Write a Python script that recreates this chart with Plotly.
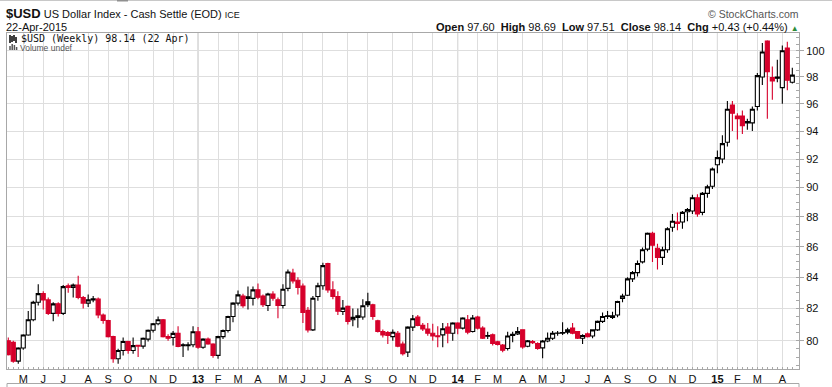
import math
import pandas as pd
import plotly.graph_objects as go

# ---------------- data (weekly bars, dated by Monday of the week) ----------------
week_start = "2012-04-16"
n_weeks = 158

opens = [80.00, 79.90, 78.75, 79.55, 80.35, 81.30, 82.40, 82.95, 82.55, 81.70,
         82.30, 81.70, 83.45, 83.35, 83.50, 82.70, 82.35, 82.55, 82.60, 81.60,
         81.25, 80.25, 78.90, 79.40, 79.95, 79.40, 79.72, 79.67, 80.10, 80.65,
         81.05, 81.30, 80.25, 80.20, 80.45, 79.75, 79.70, 79.75, 80.55, 79.60,
         80.10, 79.80, 79.10, 80.25, 80.63, 81.50, 82.35, 82.80, 82.75, 82.65,
         83.20, 82.80, 82.20, 82.93, 82.56, 82.20, 83.29, 84.28, 83.81, 83.44,
         81.89, 80.67, 82.77, 83.46, 84.90, 83.19, 82.77, 81.82, 82.14, 81.30,
         81.45, 81.47, 82.43, 82.24, 81.24, 80.57, 80.50, 80.25, 80.46, 79.79,
         79.30, 80.84, 81.47, 80.95, 80.72, 80.46, 80.30, 80.36, 80.85, 80.46,
         81.10, 80.78, 81.30, 80.57, 81.47, 80.78, 80.32, 80.36, 79.94, 79.73,
         79.52, 80.40, 80.42, 80.67, 79.66, 79.95, 79.83, 79.56, 79.98, 80.15,
         80.48, 80.50, 80.53, 80.78, 80.57, 80.15, 80.42, 80.29, 80.67, 81.20,
         81.55, 81.45, 81.60, 82.65, 82.85, 83.90, 84.30, 85.00, 85.84, 86.90,
         85.90, 85.30, 85.80, 87.30, 87.65, 87.65, 88.35, 88.40, 89.30, 88.30,
         89.60, 90.10, 91.60, 92.00, 93.20, 95.90, 95.10, 95.10, 94.70, 94.60,
         95.80, 98.00, 100.75, 97.96, 98.00, 97.20, 100.20, 97.60]

highs = [80.20, 80.00, 79.60, 80.40, 81.85, 82.50, 83.55, 83.10, 82.70, 82.40,
         82.40, 83.50, 83.60, 83.60, 84.10, 82.80, 82.90, 82.80, 82.70, 81.70,
         81.30, 80.30, 79.50, 80.20, 80.00, 80.20, 79.75, 80.20, 80.70, 81.10,
         81.50, 81.35, 80.40, 80.60, 80.90, 79.85, 79.90, 80.90, 80.85, 80.15,
         80.20, 79.85, 80.30, 80.70, 81.55, 82.40, 83.15, 82.95, 83.40, 83.40,
         83.60, 82.90, 83.00, 83.10, 82.70, 83.55, 84.50, 84.55, 84.00, 83.60,
         82.10, 82.80, 83.65, 84.95, 84.95, 83.75, 83.10, 82.55, 82.20, 82.00,
         82.00, 82.60, 83.00, 82.30, 81.30, 80.70, 80.60, 80.70, 80.60, 79.95,
         80.90, 81.60, 81.60, 81.10, 81.10, 81.05, 80.90, 81.10, 81.10, 81.15,
         81.15, 81.45, 81.60, 81.60, 81.55, 80.90, 80.55, 80.45, 80.00, 79.80,
         80.55, 80.55, 80.85, 80.70, 80.05, 80.05, 79.90, 80.05, 80.50, 80.60,
         80.60, 81.15, 80.80, 81.10, 80.60, 80.40, 80.50, 80.70, 81.25, 81.75,
         81.85, 81.80, 82.50, 82.95, 84.00, 84.40, 85.10, 85.95, 86.95, 87.00,
         86.20, 86.00, 87.30, 88.20, 88.30, 88.40, 88.60, 89.50, 89.55, 89.70,
         90.20, 91.40, 92.60, 93.70, 96.20, 96.20, 95.30, 95.50, 94.90, 95.80,
         98.30, 100.60, 100.80, 98.80, 99.30, 100.40, 100.70, 98.69]

lows = [79.10, 78.65, 78.60, 79.45, 80.30, 81.20, 82.20, 81.95, 81.60, 81.20,
        81.50, 81.60, 83.00, 82.70, 82.60, 82.00, 82.10, 82.40, 81.40, 81.05,
        80.20, 78.65, 78.60, 79.10, 79.20, 79.20, 79.00, 79.50, 79.95, 80.50,
        80.95, 80.20, 80.00, 79.70, 79.60, 79.00, 79.40, 79.60, 79.50, 79.50,
        79.75, 78.95, 78.90, 80.10, 80.50, 81.15, 82.20, 82.05, 81.95, 82.20,
        82.60, 82.10, 81.85, 82.50, 81.40, 82.00, 83.10, 83.60, 82.90, 81.10,
        80.50, 80.60, 82.50, 83.20, 83.00, 82.60, 81.60, 81.60, 81.00, 80.90,
        80.80, 81.30, 82.10, 81.30, 80.50, 80.20, 79.80, 80.00, 79.60, 79.10,
        79.00, 80.60, 80.90, 80.60, 80.30, 80.00, 79.60, 79.60, 79.85, 80.00,
        80.40, 80.70, 80.40, 80.50, 80.70, 80.10, 80.10, 79.70, 79.70, 79.30,
        79.40, 79.90, 80.35, 79.50, 79.60, 79.80, 79.45, 78.93, 79.90, 80.05,
        80.30, 80.35, 80.40, 80.40, 80.10, 79.80, 80.20, 80.15, 80.60, 81.10,
        81.35, 81.35, 81.45, 82.40, 82.80, 83.70, 84.05, 84.90, 85.70, 85.00,
        84.50, 84.80, 85.60, 87.00, 87.10, 87.20, 87.70, 88.20, 88.00, 88.10,
        89.30, 89.90, 91.00, 91.70, 92.90, 94.00, 93.40, 93.80, 94.10, 94.00,
        95.50, 97.40, 94.90, 96.30, 97.60, 96.00, 97.00, 97.51]

closes = [79.15, 78.75, 79.55, 80.35, 81.30, 82.40, 82.95, 82.55, 81.70, 82.30,
          81.70, 83.40, 83.35, 83.50, 82.70, 82.35, 82.55, 82.62, 81.60, 81.25,
          80.25, 78.90, 79.40, 79.95, 79.40, 79.70, 79.67, 80.15, 80.65, 81.05,
          81.30, 80.25, 80.15, 80.45, 79.65, 79.70, 79.75, 80.55, 79.60, 80.10,
          79.80, 79.10, 80.25, 80.63, 81.50, 82.35, 82.87, 82.18, 82.65, 83.19,
          82.72, 82.24, 82.93, 82.66, 82.20, 83.23, 84.34, 83.77, 83.35, 81.76,
          80.67, 82.66, 83.46, 84.76, 83.19, 82.77, 81.83, 82.03, 81.19, 81.45,
          81.55, 82.18, 82.24, 81.51, 80.57, 80.36, 80.33, 80.52, 79.66, 79.20,
          80.84, 81.36, 80.95, 80.72, 80.46, 80.29, 80.25, 80.74, 80.46, 81.10,
          80.78, 81.41, 80.53, 81.41, 80.78, 80.15, 80.28, 79.83, 79.77, 79.41,
          80.29, 80.32, 80.57, 79.62, 80.00, 79.88, 79.52, 79.98, 80.15, 80.46,
          80.46, 80.47, 80.67, 80.46, 80.15, 80.32, 80.25, 80.67, 81.20, 81.50,
          81.50, 81.55, 82.45, 82.80, 83.90, 84.30, 84.90, 85.80, 86.90, 86.10,
          85.30, 85.80, 87.20, 87.70, 87.55, 88.30, 88.50, 89.30, 88.20, 89.60,
          90.05, 91.30, 92.10, 93.10, 95.60, 95.30, 94.90, 94.40, 94.60, 95.60,
          98.10, 99.90, 98.40, 97.70, 97.90, 100.00, 97.75, 98.14]

month_labels = ["M", "J", "J", "A", "S", "O", "N", "D", "13", "F", "M", "A",
                "M", "J", "J", "A", "S", "O", "N", "D", "14", "F", "M", "A",
                "M", "J", "J", "A", "S", "O", "N", "D", "15", "F", "M", "A"]

price_ticks = [80, 82, 84, 86, 88, 90, 92, 94, 96, 98, 100]

# ---------------- derived ----------------
dates = pd.date_range(week_start, periods=n_weeks, freq="7D")
prev_close = [opens[0]] + closes[:-1]
down_week = [c < p for c, p in zip(closes, prev_close)]

tick_dates = []
seen = set()
for d in dates:
    key = (d.year, d.month)
    if key not in seen:
        seen.add(key)
        tick_dates.append(d)
tick_dates = tick_dates[1:1 + len(month_labels)]
tick_text = [f"<b>{t}</b>" if t.isdigit() else t for t in month_labels]
year_dates = [d for d, t in zip(tick_dates, month_labels) if t.isdigit()]

RED = "#D6002B"
GRID = "#DEDEDE"
FRAME = "#A8A8A8"
W, H = 832, 387
L, R, T, B = 7, 799, 33, 369
FONT = "Liberation Sans, Arial, sans-serif"


def px_x(px):
    return (px - L) / (R - L)


def px_y(py):
    return (B - py) / (B - T)


def sel(lst, flag):
    return [v for v, f in zip(lst, down_week) if f == flag]


fig = go.Figure()
for flag, col, fill_dn in [(False, "black", "black"), (True, RED, RED)]:
    fig.add_trace(go.Candlestick(
        x=sel(list(dates), flag), open=sel(opens, flag), high=sel(highs, flag),
        low=sel(lows, flag), close=sel(closes, flag),
        increasing=dict(line=dict(color=col, width=1.1), fillcolor="white"),
        decreasing=dict(line=dict(color=col, width=1.1), fillcolor=fill_dn),
        whiskerwidth=0, showlegend=False, hoverinfo="skip"))

x_left = dates[0] - pd.Timedelta(hours=43)
x_right = dates[-1] + pd.Timedelta(hours=225)

minor_y = [v / 2 for v in range(157, 203)]

fig.update_layout(
    width=W, height=H, autosize=False,
    margin=dict(l=L, r=W - R, t=T, b=H - B, pad=0),
    paper_bgcolor="white", plot_bgcolor="white",
    showlegend=False, hovermode=False,
    boxgap=0.1, boxgroupgap=0.1,
    font=dict(family=FONT, size=11, color="#111"),
    xaxis=dict(
        type="date", range=[x_left, x_right], rangeslider=dict(visible=False),
        tickmode="array", tickvals=tick_dates, ticktext=tick_text,
        ticks="", showgrid=True, gridcolor=GRID, gridwidth=1,
        showline=True, linecolor=FRAME, linewidth=1, mirror=True,
        tickfont=dict(size=11, color="#111"),
        minor=dict(tickmode="array", tickvals=list(dates), ticks="inside",
                   ticklen=2, tickcolor=FRAME, showgrid=False),
        zeroline=False, fixedrange=True, automargin=False),
    yaxis=dict(
        type="log", side="right",
        range=[math.log10(78.277), math.log10(101.371)],
        tickmode="array", tickvals=price_ticks,
        ticktext=[str(v) for v in price_ticks],
        ticks="outside", ticklen=4, tickcolor=FRAME,
        showgrid=True, gridcolor=GRID, gridwidth=1,
        showline=True, linecolor=FRAME, linewidth=1, mirror=True,
        tickfont=dict(size=11, color="#111"),
        minor=dict(tickmode="array", tickvals=minor_y, ticks="inside",
                   ticklen=3, tickcolor=FRAME, showgrid=False),
        zeroline=False, fixedrange=True, automargin=False),
)

shapes = []
for d in year_dates:
    shapes.append(dict(type="line", xref="x", yref="paper", x0=d, x1=d, y0=0, y1=1,
                       line=dict(color="#BDBDBD", width=1), layer="below"))
shapes.append(dict(type="line", xref="paper", yref="paper", x0=px_x(0), x1=px_x(832),
                   y0=px_y(0.5), y1=px_y(0.5), line=dict(color="#C8C8C8", width=1)))
shapes.append(dict(type="line", xref="paper", yref="paper", x0=px_x(117), x1=px_x(128),
                   y0=px_y(0.5), y1=px_y(0.5), line=dict(color="#909090", width=2)))
shapes.append(dict(type="line", xref="paper", yref="paper", x0=0, x1=1,
                   y0=px_y(383.5), y1=px_y(383.5), line=dict(color=FRAME, width=1)))
for xx in (L, R):
    shapes.append(dict(type="line", xref="paper", yref="paper", x0=px_x(xx), x1=px_x(xx),
                       y0=px_y(383.5), y1=px_y(388), line=dict(color=FRAME, width=1)))
icon = [(10, 35, 10, 43), (12, 36, 12, 42), (14, 35, 14, 41), (16, 37, 16, 43)]
for x0, y0, x1, y1 in icon:
    shapes.append(dict(type="line", xref="paper", yref="paper", x0=px_x(x0), x1=px_x(x1),
                       y0=px_y(y0), y1=px_y(y1), line=dict(color="black", width=1.5)))
for i, hgt in enumerate([4, 6, 5, 3]):
    xx = 10 + i * 2.2
    shapes.append(dict(type="line", xref="paper", yref="paper", x0=px_x(xx), x1=px_x(xx),
                       y0=px_y(50), y1=px_y(50 - hgt), line=dict(color="#555", width=1.5)))
fig.update_layout(shapes=shapes)

ann = []


def add_text(text, px, py, xanchor="left", size=12, color="#111", family=None):
    ann.append(dict(text=text, xref="paper", yref="paper", x=px_x(px), y=px_y(py),
                    xanchor=xanchor, yanchor="middle", showarrow=False, borderpad=0,
                    font=dict(size=size, color=color, family=family or FONT)))


add_text("<b><span style='font-size:13px'>$USD</span></b> US Dollar Index - Cash Settle (EOD) "
         "<span style='font-size:9px'>ICE</span>", 5, 13.5, size=11)
add_text("22-Apr-2015", 5, 27.5, size=11)
add_text("© StockCharts.com", 800, 14, xanchor="right", size=10.5, color="#555")
add_text("<b>Open</b> 97.60  <b>High</b> 98.69  <b>Low</b> 97.51  <b>Close</b> 98.14  "
         "<b>Chg</b> +0.43 (+0.44%) <span style='color:#2E8B3A;font-size:8px'>▲</span>",
         800, 27, xanchor="right", size=11)
add_text("$USD (Weekly) 98.14 (22 Apr)", 20, 38.5, size=10, family="DejaVu Sans Mono")
add_text("Volume undef", 19, 48.5, size=8.5, color="#555")
fig.update_layout(annotations=ann)

fig.write_html("out.html",
               config={"displayModeBar": False, "staticPlot": True},
               post_script="document.body.style.margin='0px';")
